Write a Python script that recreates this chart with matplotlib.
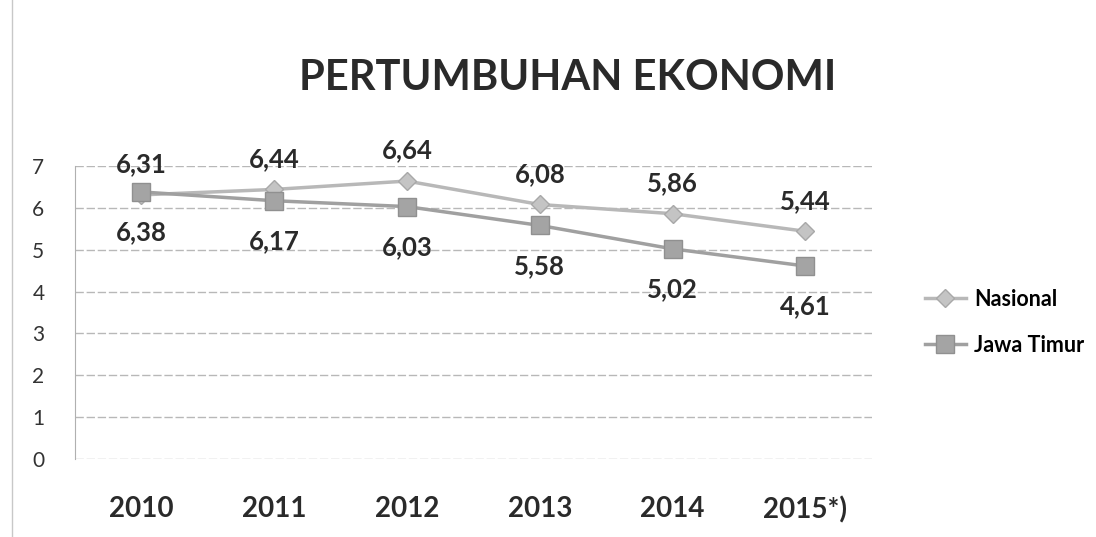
# Pertumbuhan Ekonomi - Nasional vs Jawa Timur

import matplotlib.pyplot as plt
from matplotlib.lines import Line2D

# --------------------------------------------
# Data
# --------------------------------------------

years = ["2010", "2011", "2012", "2013", "2014", "2015*)"]
nasional = [6.31, 6.44, 6.64, 6.08, 5.86, 5.44]
jatim = [6.38, 6.17, 6.03, 5.58, 5.02, 4.61]
nasional_labels = ["6,31", "6,44", "6,64", "6,08", "5,86", "5,44"]
jatim_labels = ["6,38", "6,17", "6,03", "5,58", "5,02", "4,61"]

plt.rcParams["font.family"] = ["Lato", "DejaVu Sans"]

# --------------------------------------------
# Figure
# --------------------------------------------

fig = plt.figure(figsize=(10.96, 5.37), dpi=100)
ax = fig.add_axes([0.0684, 0.1453, 0.727, 0.5456])

x = list(range(len(years)))

ax.plot(x, nasional, color="#b8b8b8", linewidth=2.5, marker="D",
        markersize=9, markerfacecolor="#c4c4c4", markeredgecolor="#a8a8a8",
        label="Nasional", zorder=3)
ax.plot(x, jatim, color="#a0a0a0", linewidth=2.5, marker="s",
        markersize=13, markerfacecolor="#a4a4a4", markeredgecolor="#909090",
        label="Jawa Timur", zorder=4)

for i in x:
    ax.annotate(nasional_labels[i], (i, nasional[i]), xytext=(0, 22),
                textcoords="offset points", ha="center", va="center",
                fontsize=18.5, fontweight="bold", color="#2a2a2a")
    ax.annotate(jatim_labels[i], (i, jatim[i]), xytext=(0, -29),
                textcoords="offset points", ha="center", va="center",
                fontsize=18.5, fontweight="bold", color="#2a2a2a")

ax.set_xlim(-0.5, len(years) - 0.5)
ax.set_ylim(0, 7)
ax.set_yticks(range(0, 8))
ax.set_xticks(x)
ax.set_xticklabels(years, fontsize=20, fontweight="bold", color="#2a2a2a")
ax.tick_params(axis="y", labelsize=15, labelcolor="#333333", length=0, pad=22)
ax.tick_params(axis="x", length=0, pad=27)

ax.grid(axis="y", color="#b8b8b8", linewidth=1, linestyle=(0, (6, 2)))
ax.set_axisbelow(True)
for side in ["top", "right", "bottom"]:
    ax.spines[side].set_visible(False)
ax.spines["left"].set_color("#b0b0b0")

fig.text(0.518, 0.855, "PERTUMBUHAN EKONOMI", ha="center", va="center",
         fontsize=30, fontweight="bold", color="#2a2a2a")

# left border of the chart area
fig.add_artist(Line2D([0.011, 0.011], [0.0, 1.0], transform=fig.transFigure,
                      color="#c8c8c8", linewidth=1))

fig.legend(loc="center left", bbox_to_anchor=(0.826, 0.4), frameon=False,
           handlelength=1.9, handletextpad=0.4, labelspacing=1.15,
           prop={"weight": "bold", "size": 15.5})

fig.savefig("out.png", dpi=100)
